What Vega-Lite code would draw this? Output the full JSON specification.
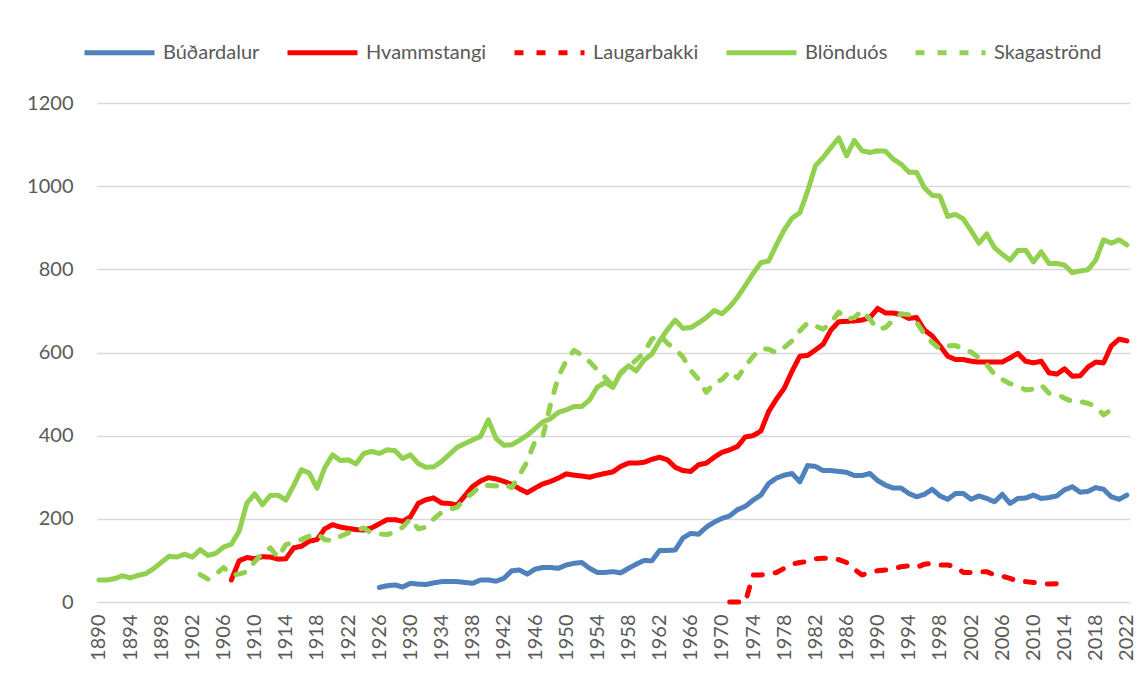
{
"$schema": "https://vega.github.io/schema/vega-lite/v6.json",
"width": 1033, "height": 499,
"autosize": {"type": "none"},
"padding": {"left": 97, "top": 103, "right": 17, "bottom": 78},
"background": "white",
"config": {"view": {"stroke": null}, "font": "Lato"},
"data": {"values": [
{"year":1890,"Blönduós":53},{"year":1891,"Blönduós":53},{"year":1892,"Blönduós":56},{"year":1893,"Blönduós":63},{"year":1894,"Blönduós":58},
{"year":1895,"Blönduós":64},{"year":1896,"Blönduós":68},{"year":1897,"Blönduós":80},{"year":1898,"Blönduós":95},{"year":1899,"Blönduós":110},
{"year":1900,"Blönduós":108},{"year":1901,"Blönduós":115},{"year":1902,"Blönduós":108},
{"year":1903,"Blönduós":126,"Skagaströnd":66},{"year":1904,"Blönduós":112,"Skagaströnd":55},{"year":1905,"Blönduós":117,"Skagaströnd":66},{"year":1906,"Blönduós":132,"Skagaströnd":83},
{"year":1907,"Hvammstangi":53,"Blönduós":139,"Skagaströnd":65},{"year":1908,"Hvammstangi":99,"Blönduós":170,"Skagaströnd":67},{"year":1909,"Hvammstangi":107,"Blönduós":238,"Skagaströnd":73},
{"year":1910,"Hvammstangi":104,"Blönduós":260,"Skagaströnd":97},{"year":1911,"Hvammstangi":109,"Blönduós":234,"Skagaströnd":117},{"year":1912,"Hvammstangi":108,"Blönduós":256,"Skagaströnd":130},
{"year":1913,"Hvammstangi":103,"Blönduós":257,"Skagaströnd":107},{"year":1914,"Hvammstangi":104,"Blönduós":245,"Skagaströnd":138},{"year":1915,"Hvammstangi":130,"Blönduós":280,"Skagaströnd":143},
{"year":1916,"Hvammstangi":134,"Blönduós":318,"Skagaströnd":150},{"year":1917,"Hvammstangi":146,"Blönduós":310,"Skagaströnd":158},{"year":1918,"Hvammstangi":150,"Blönduós":274,"Skagaströnd":164},
{"year":1919,"Hvammstangi":176,"Blönduós":323,"Skagaströnd":150},{"year":1920,"Hvammstangi":186,"Blönduós":354,"Skagaströnd":147},{"year":1921,"Hvammstangi":180,"Blönduós":340,"Skagaströnd":158},
{"year":1922,"Hvammstangi":177,"Blönduós":342,"Skagaströnd":166},{"year":1923,"Hvammstangi":174,"Blönduós":332,"Skagaströnd":172},{"year":1924,"Hvammstangi":173,"Blönduós":357,"Skagaströnd":178},
{"year":1925,"Hvammstangi":178,"Blönduós":362,"Skagaströnd":166},
{"year":1926,"Búðardalur":35,"Hvammstangi":188,"Blönduós":357,"Skagaströnd":164},
{"year":1927,"Búðardalur":39,"Hvammstangi":198,"Blönduós":366,"Skagaströnd":162},
{"year":1928,"Búðardalur":41,"Hvammstangi":198,"Blönduós":364,"Skagaströnd":168},
{"year":1929,"Búðardalur":36,"Hvammstangi":194,"Blönduós":345,"Skagaströnd":180},
{"year":1930,"Búðardalur":45,"Hvammstangi":205,"Blönduós":354,"Skagaströnd":200},
{"year":1931,"Búðardalur":43,"Hvammstangi":237,"Blönduós":333,"Skagaströnd":176},
{"year":1932,"Búðardalur":42,"Hvammstangi":246,"Blönduós":324,"Skagaströnd":180},
{"year":1933,"Búðardalur":46,"Hvammstangi":250,"Blönduós":325,"Skagaströnd":200},
{"year":1934,"Búðardalur":49,"Hvammstangi":238,"Blönduós":338,"Skagaströnd":216},
{"year":1935,"Búðardalur":49,"Hvammstangi":237,"Blönduós":355,"Skagaströnd":222},
{"year":1936,"Búðardalur":49,"Hvammstangi":233,"Blönduós":372,"Skagaströnd":228},
{"year":1937,"Búðardalur":47,"Hvammstangi":256,"Blönduós":381,"Skagaströnd":248},
{"year":1938,"Búðardalur":45,"Hvammstangi":278,"Blönduós":390,"Skagaströnd":262},
{"year":1939,"Búðardalur":53,"Hvammstangi":291,"Blönduós":398,"Skagaströnd":280},
{"year":1940,"Búðardalur":53,"Hvammstangi":299,"Blönduós":438,"Skagaströnd":280},
{"year":1941,"Búðardalur":50,"Hvammstangi":296,"Blönduós":393,"Skagaströnd":279},
{"year":1942,"Búðardalur":57,"Hvammstangi":290,"Blönduós":377,"Skagaströnd":284},
{"year":1943,"Búðardalur":75,"Hvammstangi":283,"Blönduós":378,"Skagaströnd":275},
{"year":1944,"Búðardalur":77,"Hvammstangi":272,"Blönduós":389,"Skagaströnd":305},
{"year":1945,"Búðardalur":67,"Hvammstangi":263,"Blönduós":401,"Skagaströnd":338},
{"year":1946,"Búðardalur":79,"Hvammstangi":274,"Blönduós":417,"Skagaströnd":387},
{"year":1947,"Búðardalur":83,"Hvammstangi":284,"Blönduós":433,"Skagaströnd":398},
{"year":1948,"Búðardalur":83,"Hvammstangi":290,"Blönduós":441,"Skagaströnd":476},
{"year":1949,"Búðardalur":81,"Hvammstangi":298,"Blönduós":456,"Skagaströnd":542},
{"year":1950,"Búðardalur":89,"Hvammstangi":308,"Blönduós":462,"Skagaströnd":580},
{"year":1951,"Búðardalur":93,"Hvammstangi":305,"Blönduós":470,"Skagaströnd":605},
{"year":1952,"Búðardalur":95,"Hvammstangi":303,"Blönduós":470,"Skagaströnd":594},
{"year":1953,"Búðardalur":81,"Hvammstangi":300,"Blönduós":486,"Skagaströnd":578},
{"year":1954,"Búðardalur":71,"Hvammstangi":305,"Blönduós":517,"Skagaströnd":558},
{"year":1955,"Búðardalur":71,"Hvammstangi":309,"Blönduós":528,"Skagaströnd":540},
{"year":1956,"Búðardalur":73,"Hvammstangi":313,"Blönduós":516,"Skagaströnd":520},
{"year":1957,"Búðardalur":70,"Hvammstangi":326,"Blönduós":552,"Skagaströnd":550},
{"year":1958,"Búðardalur":81,"Hvammstangi":334,"Blönduós":568,"Skagaströnd":566},
{"year":1959,"Búðardalur":91,"Hvammstangi":334,"Blönduós":556,"Skagaströnd":582},
{"year":1960,"Búðardalur":100,"Hvammstangi":336,"Blönduós":582,"Skagaströnd":600},
{"year":1961,"Búðardalur":99,"Hvammstangi":343,"Blönduós":596,"Skagaströnd":632},
{"year":1962,"Búðardalur":124,"Hvammstangi":348,"Blönduós":628,"Skagaströnd":643},
{"year":1963,"Búðardalur":124,"Hvammstangi":342,"Blönduós":655,"Skagaströnd":622},
{"year":1964,"Búðardalur":125,"Hvammstangi":324,"Blönduós":678,"Skagaströnd":608},
{"year":1965,"Búðardalur":154,"Hvammstangi":316,"Blönduós":658,"Skagaströnd":589},
{"year":1966,"Búðardalur":165,"Hvammstangi":314,"Blönduós":660,"Skagaströnd":557},
{"year":1967,"Búðardalur":163,"Hvammstangi":330,"Blönduós":671,"Skagaströnd":535},
{"year":1968,"Búðardalur":180,"Hvammstangi":334,"Blönduós":684,"Skagaströnd":504},
{"year":1969,"Búðardalur":192,"Hvammstangi":348,"Blönduós":701,"Skagaströnd":527},
{"year":1970,"Búðardalur":201,"Hvammstangi":360,"Blönduós":693,"Skagaströnd":535},
{"year":1971,"Búðardalur":207,"Hvammstangi":366,"Laugarbakki":0,"Blönduós":710,"Skagaströnd":555},
{"year":1972,"Búðardalur":222,"Hvammstangi":374,"Laugarbakki":0,"Blönduós":733,"Skagaströnd":539},
{"year":1973,"Búðardalur":230,"Hvammstangi":397,"Laugarbakki":0,"Blönduós":761,"Skagaströnd":567},
{"year":1974,"Búðardalur":245,"Hvammstangi":400,"Laugarbakki":65,"Blönduós":790,"Skagaströnd":591},
{"year":1975,"Búðardalur":257,"Hvammstangi":411,"Laugarbakki":65,"Blönduós":816,"Skagaströnd":609},
{"year":1976,"Búðardalur":285,"Hvammstangi":458,"Laugarbakki":67,"Blönduós":820,"Skagaströnd":608},
{"year":1977,"Búðardalur":298,"Hvammstangi":488,"Laugarbakki":71,"Blönduós":859,"Skagaströnd":599},
{"year":1978,"Búðardalur":305,"Hvammstangi":514,"Laugarbakki":81,"Blönduós":895,"Skagaströnd":612},
{"year":1979,"Búðardalur":309,"Hvammstangi":555,"Laugarbakki":91,"Blönduós":923,"Skagaströnd":628},
{"year":1980,"Búðardalur":289,"Hvammstangi":591,"Laugarbakki":95,"Blönduós":936,"Skagaströnd":652},
{"year":1981,"Búðardalur":328,"Hvammstangi":593,"Laugarbakki":97,"Blönduós":988,"Skagaströnd":671},
{"year":1982,"Búðardalur":326,"Hvammstangi":606,"Laugarbakki":104,"Blönduós":1049,"Skagaströnd":664},
{"year":1983,"Búðardalur":316,"Hvammstangi":620,"Laugarbakki":105,"Blönduós":1069,"Skagaströnd":656},
{"year":1984,"Búðardalur":316,"Hvammstangi":654,"Laugarbakki":105,"Blönduós":1093,"Skagaströnd":672},
{"year":1985,"Búðardalur":314,"Hvammstangi":674,"Laugarbakki":102,"Blönduós":1116,"Skagaströnd":697},
{"year":1986,"Búðardalur":312,"Hvammstangi":675,"Laugarbakki":95,"Blönduós":1073,"Skagaströnd":680},
{"year":1987,"Búðardalur":304,"Hvammstangi":676,"Laugarbakki":79,"Blönduós":1110,"Skagaströnd":684},
{"year":1988,"Búðardalur":304,"Hvammstangi":678,"Laugarbakki":65,"Blönduós":1085,"Skagaströnd":701},
{"year":1989,"Búðardalur":309,"Hvammstangi":684,"Laugarbakki":71,"Blönduós":1081,"Skagaströnd":680},
{"year":1990,"Búðardalur":292,"Hvammstangi":706,"Laugarbakki":75,"Blönduós":1085,"Skagaströnd":656},
{"year":1991,"Búðardalur":281,"Hvammstangi":695,"Laugarbakki":77,"Blönduós":1084,"Skagaströnd":660},
{"year":1992,"Búðardalur":274,"Hvammstangi":695,"Laugarbakki":79,"Blönduós":1065,"Skagaströnd":678},
{"year":1993,"Búðardalur":274,"Hvammstangi":691,"Laugarbakki":85,"Blönduós":1053,"Skagaströnd":693},
{"year":1994,"Búðardalur":261,"Hvammstangi":682,"Laugarbakki":87,"Blönduós":1034,"Skagaströnd":691},
{"year":1995,"Búðardalur":253,"Hvammstangi":684,"Laugarbakki":83,"Blönduós":1033,"Skagaströnd":672},
{"year":1996,"Búðardalur":259,"Hvammstangi":654,"Laugarbakki":91,"Blönduós":996,"Skagaströnd":644},
{"year":1997,"Búðardalur":271,"Hvammstangi":640,"Laugarbakki":93,"Blönduós":978,"Skagaströnd":624},
{"year":1998,"Búðardalur":255,"Hvammstangi":616,"Laugarbakki":89,"Blönduós":976,"Skagaströnd":608},
{"year":1999,"Búðardalur":247,"Hvammstangi":591,"Laugarbakki":89,"Blönduós":927,"Skagaströnd":616},
{"year":2000,"Búðardalur":261,"Hvammstangi":583,"Laugarbakki":85,"Blönduós":932,"Skagaströnd":617},
{"year":2001,"Búðardalur":261,"Hvammstangi":583,"Laugarbakki":71,"Blönduós":921,"Skagaströnd":608},
{"year":2002,"Búðardalur":247,"Hvammstangi":579,"Laugarbakki":71,"Blönduós":893,"Skagaströnd":601},
{"year":2003,"Búðardalur":255,"Hvammstangi":577,"Laugarbakki":73,"Blönduós":863,"Skagaströnd":587},
{"year":2004,"Búðardalur":249,"Hvammstangi":577,"Laugarbakki":73,"Blönduós":885,"Skagaströnd":571},
{"year":2005,"Búðardalur":241,"Hvammstangi":577,"Laugarbakki":65,"Blönduós":852,"Skagaströnd":547},
{"year":2006,"Búðardalur":259,"Hvammstangi":577,"Laugarbakki":62,"Blönduós":836,"Skagaströnd":535},
{"year":2007,"Búðardalur":237,"Hvammstangi":587,"Laugarbakki":57,"Blönduós":822,"Skagaströnd":525},
{"year":2008,"Búðardalur":249,"Hvammstangi":598,"Laugarbakki":50,"Blönduós":845,"Skagaströnd":520},
{"year":2009,"Búðardalur":250,"Hvammstangi":579,"Laugarbakki":49,"Blönduós":846,"Skagaströnd":510},
{"year":2010,"Búðardalur":257,"Hvammstangi":575,"Laugarbakki":47,"Blönduós":818,"Skagaströnd":512},
{"year":2011,"Búðardalur":249,"Hvammstangi":579,"Laugarbakki":45,"Blönduós":842,"Skagaströnd":522},
{"year":2012,"Búðardalur":251,"Hvammstangi":551,"Laugarbakki":43,"Blönduós":814,"Skagaströnd":502},
{"year":2013,"Búðardalur":255,"Hvammstangi":548,"Laugarbakki":44,"Blönduós":814,"Skagaströnd":500},
{"year":2014,"Búðardalur":270,"Hvammstangi":561,"Laugarbakki":45,"Blönduós":810,"Skagaströnd":490},
{"year":2015,"Búðardalur":277,"Hvammstangi":543,"Blönduós":792,"Skagaströnd":482},
{"year":2016,"Búðardalur":264,"Hvammstangi":544,"Blönduós":796,"Skagaströnd":482},
{"year":2017,"Búðardalur":266,"Hvammstangi":565,"Blönduós":799,"Skagaströnd":478},
{"year":2018,"Búðardalur":275,"Hvammstangi":577,"Blönduós":822,"Skagaströnd":470},
{"year":2019,"Búðardalur":271,"Hvammstangi":575,"Blönduós":871,"Skagaströnd":450},
{"year":2020,"Búðardalur":253,"Hvammstangi":616,"Blönduós":863,"Skagaströnd":462},
{"year":2021,"Búðardalur":247,"Hvammstangi":632,"Blönduós":871,"Skagaströnd":458},
{"year":2022,"Búðardalur":257,"Hvammstangi":628,"Blönduós":859}
]},
"transform": [
  {"fold": ["Búðardalur", "Hvammstangi", "Laugarbakki", "Blönduós", "Skagaströnd"], "as": ["series", "value"]},
  {"filter": "isValid(datum.value)"}
],
"encoding": {
  "x": {"field": "year", "type": "quantitative",
        "scale": {"domain": [1889.75, 2022.4], "nice": false, "zero": false},
        "axis": {"values": [1890,1894,1898,1902,1906,1910,1914,1918,1922,1926,1930,1934,1938,1942,1946,1950,1954,1958,1962,1966,1970,1974,1978,1982,1986,1990,1994,1998,2002,2006,2010,2014,2018,2022],
                 "format": "d", "labelAngle": -90, "grid": false, "domain": false, "ticks": false,
                 "labelFontSize": 20, "labelColor": "#595959", "labelFont": "Lato", "labelPadding": 12,
                 "labelOverlap": false, "labelFlush": false, "title": null}},
  "y": {"field": "value", "type": "quantitative",
        "scale": {"domain": [0, 1200], "nice": false},
        "axis": {"values": [0,200,400,600,800,1000,1200], "format": "d", "grid": true, "gridColor": "#d9d9d9", "gridWidth": 1.5,
                 "domain": false, "ticks": false, "labelFontSize": 20, "labelColor": "#595959", "labelFont": "Lato",
                 "labelPadding": 24, "title": null}},
  "color": {"field": "series", "type": "nominal",
            "scale": {"domain": ["Búðardalur", "Hvammstangi", "Laugarbakki", "Blönduós", "Skagaströnd"],
                      "range": ["#4F81BD", "#FF0000", "#FF0000", "#92D050", "#92D050"]},
            "legend": {"title": null, "orient": "none", "legendX": -15, "legendY": -88, "direction": "horizontal", "columns": 5,
                       "symbolType": "stroke", "symbolSize": 4900, "symbolStrokeWidth": 5,
                       "labelFontSize": 20, "labelColor": "#595959", "labelFont": "Lato", "labelOffset": 6,
                       "columnPadding": 17, "labelLimit": 0}},
  "strokeDash": {"field": "series", "type": "nominal",
            "scale": {"domain": ["Búðardalur", "Hvammstangi", "Laugarbakki", "Blönduós", "Skagaströnd"],
                      "range": [[1, 0], [1, 0], [9, 13], [1, 0], [9, 13]]},
            "legend": {"title": null, "orient": "none", "legendX": -15, "legendY": -88, "direction": "horizontal", "columns": 5,
                       "symbolType": "stroke", "symbolSize": 4900, "symbolStrokeWidth": 5,
                       "labelFontSize": 20, "labelColor": "#595959", "labelFont": "Lato", "labelOffset": 6,
                       "columnPadding": 17, "labelLimit": 0}}
},
"layer": [
  {"transform": [{"filter": "datum.series == 'Búðardalur'"}], "mark": {"type": "line", "strokeWidth": 5, "strokeCap": "round", "strokeJoin": "round"}},
  {"transform": [{"filter": "datum.series == 'Hvammstangi'"}], "mark": {"type": "line", "strokeWidth": 5, "strokeCap": "round", "strokeJoin": "round"}},
  {"transform": [{"filter": "datum.series == 'Laugarbakki'"}], "mark": {"type": "line", "strokeWidth": 5, "strokeCap": "round", "strokeJoin": "round"}},
  {"transform": [{"filter": "datum.series == 'Blönduós'"}], "mark": {"type": "line", "strokeWidth": 5, "strokeCap": "round", "strokeJoin": "round"}},
  {"transform": [{"filter": "datum.series == 'Skagaströnd'"}], "mark": {"type": "line", "strokeWidth": 5, "strokeCap": "round", "strokeJoin": "round"}}
]
}
